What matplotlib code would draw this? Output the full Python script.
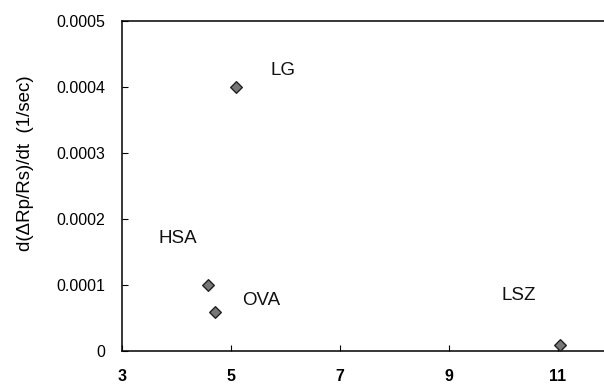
import matplotlib
matplotlib.use("Agg")
import matplotlib.pyplot as plt

plt.rcParams['font.family'] = ['Liberation Sans', 'DejaVu Sans']

# data
proteins = ['LG', 'HSA', 'OVA', 'LSZ']
x_vals = [5.1, 4.58, 4.7, 11.05]
rate = [0.0004, 0.0001, 0.00006, 0.00001]
label_pos = [(5.96, 0.000426), (4.02, 0.00017), (5.56, 0.000077), (10.29, 0.000085)]

x_ticks = [3, 5, 7, 9, 11]
y_ticks = [0, 0.0001, 0.0002, 0.0003, 0.0004, 0.0005]
y_tick_labels = ['0', '0.0001', '0.0002', '0.0003', '0.0004', '0.0005']

fig = plt.figure(figsize=(6.04, 3.85), dpi=100)
ax = fig.add_axes([0.202, 0.088, 0.798, 0.857])

ax.scatter(x_vals, rate, marker='D', s=35, facecolor='#777777',
           edgecolor='#222222', linewidth=1.0, zorder=3, clip_on=False)
for name, (lx, ly) in zip(proteins, label_pos):
    ax.text(lx, ly, name, fontsize=13.5, ha='center', va='center', color='#111111')

ax.set_xlim(3, 11.85)
ax.set_ylim(0, 0.0005)
ax.set_xticks(x_ticks)
ax.set_xticklabels([str(t) for t in x_ticks], fontweight='bold', fontsize=11.5)
ax.set_yticks(y_ticks)
ax.set_yticklabels(y_tick_labels, fontsize=11.5)
ax.tick_params(direction='in', length=4, width=0.8)
ax.tick_params(axis='x', pad=13)
ax.tick_params(axis='y', pad=12)

ax.spines['right'].set_visible(False)
for s in ['left', 'top', 'bottom']:
    ax.spines[s].set_linewidth(1.1)

ax.set_ylabel('d(ΔRp/Rs)/dt  (1/sec)', fontsize=13.5)
ax.yaxis.set_label_coords(-0.183, 0.57)

fig.savefig('out.png', dpi=100)
